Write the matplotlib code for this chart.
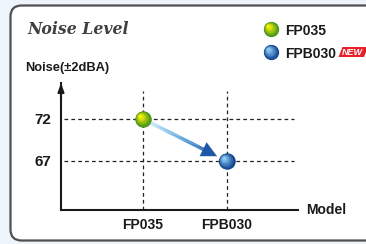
import numpy as np
import matplotlib
matplotlib.use("Agg")
import matplotlib.pyplot as plt
from matplotlib.patches import FancyBboxPatch, Polygon
from matplotlib.collections import LineCollection
from matplotlib.transforms import ScaledTranslation
import matplotlib.colors as mcolors

models = ["FP035", "FPB030"]
noise = [72, 67]
yticks = [72, 67]
legend_labels = ["FP035", "FPB030"]
title = "Noise Level"
ylabel = "Noise(±2dBA)"
xlabel = "Model"

sans = "Liberation Sans"

W, H = 366, 244
fig = plt.figure(figsize=(W / 100, H / 100), dpi=100)
fig.patch.set_facecolor("#edf4fa")

bg = fig.add_axes([0, 0, 1, 1])
bg.set_xlim(0, W)
bg.set_ylim(H, 0)
bg.axis("off")
panel = FancyBboxPatch((10.5, 5.5), 380, 235, boxstyle="round,pad=0,rounding_size=11",
                       fc="white", ec="#505050", lw=1.6)
bg.add_patch(panel)

bg.text(27, 34.5, title, fontsize=11.3, family="DejaVu Serif", weight="bold",
        style="italic", color="#404040", va="baseline")
bg.text(25, 71, ylabel, fontsize=9.3, family=sans, weight="bold", color="#1a1a1a", va="baseline")
bg.text(306, 214.5, xlabel, fontsize=10, family=sans, weight="bold", color="#1a1a1a", va="baseline")

L, R, T, B = 61, 298, 83, 210
ax = fig.add_axes([L / W, 1 - B / H, (R - L) / W, (B - T) / H])
ax.patch.set_alpha(0)
px_x = 83.6
px_y = 8.4
x0_px, y0_px = 143.0, 119.0
ax.set_xlim(-(x0_px - L) / px_x, (R - x0_px) / px_x)
ax.set_ylim(noise[0] - (B - y0_px) / px_y, noise[0] + (y0_px - T) / px_y)
for s in ["top", "right"]:
    ax.spines[s].set_visible(False)
for s in ["left", "bottom"]:
    ax.spines[s].set_linewidth(1.5)
    ax.spines[s].set_color("#1a1a1a")
ax.set_xticks(range(len(models)))
ax.set_xticklabels(models, fontsize=10, family=sans, weight="bold", color="#1a1a1a")
ax.set_yticks(yticks)
ax.set_yticklabels([str(v) for v in yticks], fontsize=11, family=sans,
                   weight="bold", color="#1a1a1a")
ax.tick_params(length=0, pad=7)
ax.tick_params(axis="x", pad=6)

ylo, yhi = ax.get_ylim()
xlo, xhi = ax.get_xlim()
ax.annotate("", xy=(xlo, yhi), xytext=(xlo, yhi - 2), xycoords="data",
            arrowprops=dict(arrowstyle="-|>,head_length=0.5,head_width=0.18", color="#1a1a1a",
                            lw=1.5, shrinkA=0, shrinkB=0), annotation_clip=False)

grid_top = noise[0] + 3.3
for i in range(len(models)):
    ax.plot([i, i], [ylo, grid_top], ls=(0, (3, 2.5)), color="#222", lw=0.9, zorder=1)
for v in yticks:
    ax.plot([xlo + 0.03, 1.81], [v, v], ls=(0, (3, 2.5)), color="#222", lw=0.9, zorder=1)

xs = np.arange(len(models), dtype=float)
ys = np.array(noise, dtype=float)
f0, f1 = 0.09, 0.76
tt = np.linspace(f0, f1, 60)
px = xs[0] + (xs[1] - xs[0]) * tt
py = ys[0] + (ys[1] - ys[0]) * tt
segs = np.stack([np.column_stack([px[:-1], py[:-1]]), np.column_stack([px[1:], py[1:]])], axis=1)
cmap = mcolors.LinearSegmentedColormap.from_list("g", ["#c4e8f8", "#5aa8e0", "#1d5eb0"])
lc = LineCollection(segs, colors=cmap(np.linspace(0, 1, len(segs))), linewidths=2.6, zorder=3,
                    capstyle="butt")
ax.add_collection(lc)
ax.annotate("", xy=(xs[0] + (xs[1] - xs[0]) * 0.885, ys[0] + (ys[1] - ys[0]) * 0.885),
            xytext=(xs[0] + (xs[1] - xs[0]) * 0.74, ys[0] + (ys[1] - ys[0]) * 0.74),
            arrowprops=dict(arrowstyle="-|>,head_length=1.1,head_width=0.55", color="#1d58a8",
                            lw=0.1, shrinkA=0, shrinkB=0), zorder=4)

def ball(axis, x, y, dark, light, diam_pt, transform_base):
    n = 14
    cm = mcolors.LinearSegmentedColormap.from_list("b", [dark, light])
    for i in range(n):
        t = i / (n - 1)
        d = diam_pt * (1 - 0.8 * t)
        off = 0.18 * diam_pt * t
        tr = transform_base + ScaledTranslation(-off / 72, off / 72, fig.dpi_scale_trans)
        axis.scatter([x], [y], s=d ** 2, color=cm(t), transform=tr, zorder=5 + i * 0.01,
                     linewidths=0, clip_on=False)

green = ("#3f8f1e", "#f2f20a")
blue = ("#0c3f8c", "#8cc8f2")
ball(ax, xs[0], ys[0], green[0], green[1], 11.8, ax.transData)
ball(ax, xs[1], ys[1], blue[0], blue[1], 11.8, ax.transData)

ball(bg, 271, 29, green[0], green[1], 11.0, bg.transData)
ball(bg, 271, 52, blue[0], blue[1], 11.0, bg.transData)
bg.text(285, 35, legend_labels[0], fontsize=10, family=sans, weight="bold", color="#1a1a1a", va="baseline")
bg.text(285, 57.5, legend_labels[1], fontsize=10, family=sans, weight="bold", color="#1a1a1a", va="baseline")
badge = Polygon([[338.5, 57], [342.5, 47], [368, 47], [364, 57]], closed=True, fc="#e8202a", ec="none")
bg.add_patch(badge)
bg.text(352.5, 52.3, "NEW", fontsize=6.5, family=sans, weight="bold", style="italic",
        color="white", ha="center", va="center")

fig.savefig("out.png", dpi=100)
